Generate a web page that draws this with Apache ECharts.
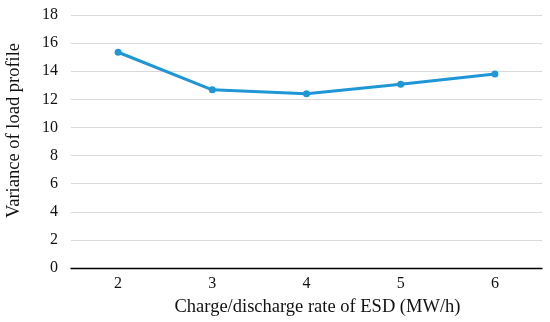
<!DOCTYPE html>
<html><head><meta charset="utf-8">
<script src="https://cdn.jsdelivr.net/npm/echarts@6/dist/echarts.min.js"></script>
<style>html,body{margin:0;padding:0;background:#fff}#c{width:550px;height:322px}</style>
</head><body><div id="c"></div>
<script>
var categories = ['2', '3', '4', '5', '6'];
var variance = [15.35, 12.68, 12.39, 13.08, 13.8];
var yTicks = {min: 0, max: 18, interval: 2};
var font = '"Liberation Serif", "DejaVu Serif", serif';
var chart = echarts.init(document.getElementById('c'));
chart.setOption({
  animation: false,
  grid: {left: 71, right: 8, top: 15, bottom: 54, containLabel: false, outerBoundsMode: 'none'},
  xAxis: {
    type: 'category', data: categories, boundaryGap: true,
    name: 'Charge/discharge rate of ESD (MW/h)', nameLocation: 'middle', nameGap: 30,
    nameTextStyle: {fontFamily: font, fontSize: 18.5, color: '#111', padding: [0, 0, 0, 22]},
    axisLine: {lineStyle: {color: '#000', width: 1.3}},
    axisTick: {alignWithLabel: true, inside: true, length: 4, lineStyle: {color: '#000'}},
    axisLabel: {fontFamily: font, fontSize: 16, color: '#111', margin: 8},
    splitLine: {show: false}
  },
  yAxis: {
    type: 'value', min: yTicks.min, max: yTicks.max, interval: yTicks.interval,
    name: 'Variance of load profile', nameLocation: 'middle', nameGap: 47,
    nameTextStyle: {fontFamily: font, fontSize: 18.5, color: '#111', padding: [0, 0, 0, 22]},
    axisLine: {show: false}, axisTick: {show: false},
    axisLabel: {fontFamily: font, fontSize: 16, color: '#111', margin: 13},
    splitLine: {lineStyle: {color: '#d9d9d9', width: 1.2}}
  },
  series: [{
    type: 'line', data: variance, symbol: 'circle', symbolSize: 7,
    lineStyle: {color: '#1f96d6', width: 3},
    itemStyle: {color: '#1f96d6'}
  }]
});
</script></body></html>
